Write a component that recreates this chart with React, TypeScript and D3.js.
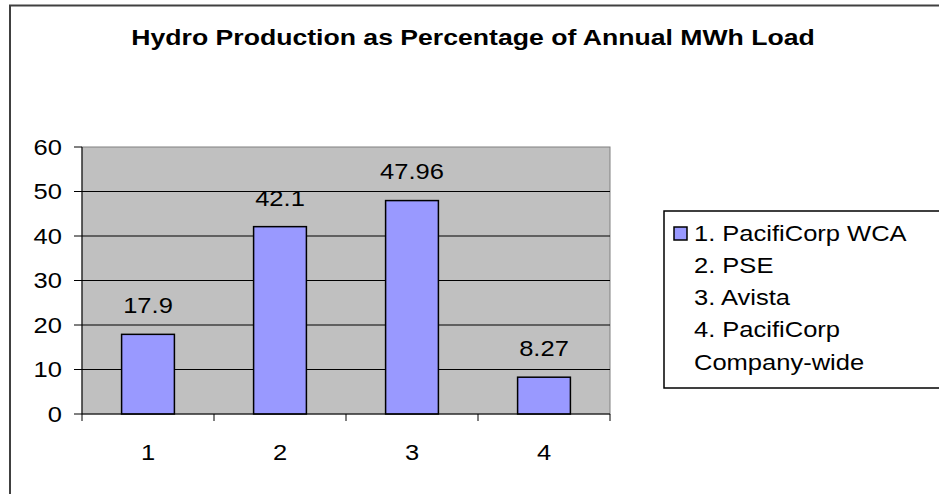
import React from "react";
import * as d3 from "d3";

const categories = ["1", "2", "3", "4"];
const values = [17.9, 42.1, 47.96, 8.27];
const yTicks = [0, 10, 20, 30, 40, 50, 60];
const legendLines = ["1. PacifiCorp WCA", "2. PSE", "3. Avista", "4. PacifiCorp", "Company-wide"];
const title = "Hydro Production as Percentage of Annual MWh Load";

const W = 939;
const H = 494;
const plot = { left: 82, right: 610, top: 147, bottom: 414 };
const FONT = "'Liberation Sans', Arial, sans-serif";
const FS = 22;
const SX = 1.16;

function T({ x, y, anchor = "start", sx = SX, size = FS, weight = "normal", children }: any) {
  return (
    <text
      transform={`translate(${x},${y}) scale(${sx},1)`}
      textAnchor={anchor}
      dominantBaseline="central"
      fontSize={size}
      fontWeight={weight}
      fill="#000"
    >
      {children}
    </text>
  );
}

export default function App() {
  const x = d3.scaleBand().domain(categories).range([plot.left, plot.right]).paddingInner(0.6).paddingOuter(0.3);
  const xb = d3.scaleBand().domain(categories).range([plot.left, plot.right]);
  const y = d3.scaleLinear().domain([0, 60]).range([plot.bottom, plot.top]);
  return (
    <svg width={W} height={H} style={{ position: "absolute", left: 0, top: 0, display: "block" }} fontFamily={FONT}>
      <rect x={0} y={0} width={W} height={H} fill="#fff" />
      <rect x={10} y={5.5} width={W + 20} height={H + 20} fill="none" stroke="#404040" strokeWidth={2} />
      <T x={473} y={37} anchor="middle" weight="bold" sx={1.21}>{title}</T>
      <rect x={plot.left} y={plot.top} width={plot.right - plot.left} height={plot.bottom - plot.top} fill="#c0c0c0" stroke="#808080" strokeWidth={1} />
      {yTicks.filter(t => t > 0 && t < 60).map(t => (
        <line key={"g" + t} x1={plot.left} x2={plot.right} y1={y(t)} y2={y(t)} stroke="#000" strokeWidth={1} />
      ))}
      {categories.map((c, i) => (
        <rect key={"b" + c} x={x(c)} y={y(values[i])} width={x.bandwidth()} height={plot.bottom - y(values[i])} fill="#9999ff" stroke="#000" strokeWidth={1.5} />
      ))}
      {categories.map((c, i) => (
        <T key={"l" + c} x={x(c)! + x.bandwidth() / 2} y={y(values[i]) - 29} anchor="middle">{values[i]}</T>
      ))}
      <line x1={plot.left} x2={plot.left} y1={plot.top} y2={plot.bottom} stroke="#000" />
      <line x1={plot.left} x2={plot.right} y1={plot.bottom} y2={plot.bottom} stroke="#000" />
      {yTicks.map(t => (
        <g key={"y" + t}>
          <line x1={plot.left - 8} x2={plot.left} y1={y(t)} y2={y(t)} stroke="#000" />
          <T x={plot.left - 20} y={y(t)} anchor="end">{t}</T>
        </g>
      ))}
      {d3.range(categories.length + 1).map(i => (
        <line key={"xt" + i} x1={plot.left + i * xb.bandwidth()} x2={plot.left + i * xb.bandwidth()} y1={plot.bottom} y2={plot.bottom + 7} stroke="#000" />
      ))}
      {categories.map(c => (
        <T key={"x" + c} x={xb(c)! + xb.bandwidth() / 2} y={452} anchor="middle">{c}</T>
      ))}
      <rect x={664} y={211} width={W} height={177} fill="#fff" stroke="#000" strokeWidth={1.5} />
      <rect x={674} y={227} width={13} height={13} fill="#9999ff" stroke="#000" strokeWidth={1.5} />
      {legendLines.map((l, i) => (
        <T key={"lg" + i} x={694} y={233 + i * 32.2}>{l}</T>
      ))}
    </svg>
  );
}
